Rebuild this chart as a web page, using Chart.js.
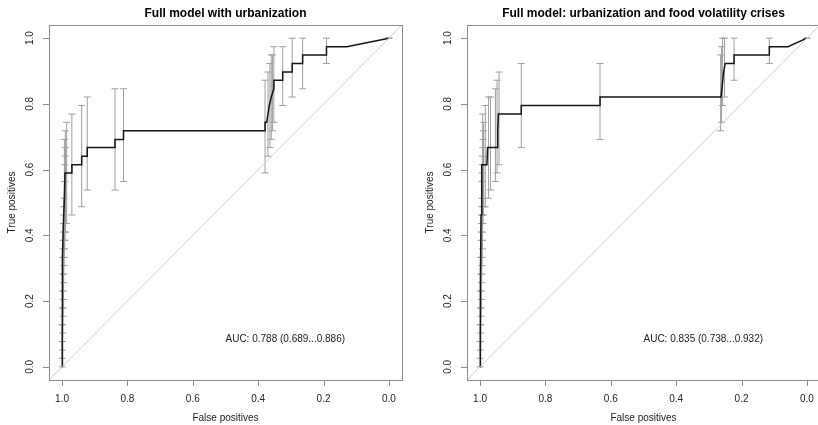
<!DOCTYPE html>
<html>
<head>
<meta charset="utf-8">
<script src="https://cdn.jsdelivr.net/npm/chart.js@4.4.1/dist/chart.umd.min.js"></script>
<style>
  html, body { margin: 0; padding: 0; background: #fff; overflow: hidden; }
  #wrap { position: relative; width: 818px; height: 425px; overflow: hidden; }
  .panel { position: absolute; top: 0; width: 418px; height: 425px; }
</style>
</head>
<body>
<div id="wrap">
  <div class="panel" style="left:0"><canvas id="roc1" width="418" height="425"></canvas></div>
  <div class="panel" style="left:418px"><canvas id="roc2" width="418" height="425"></canvas></div>
</div>
<script>
// ---- data (x = specificity, shown reversed) ----
var TICKS = [0, 0.2, 0.4, 0.6, 0.8, 1.0];
var TICK_LABELS = ["0.0", "0.2", "0.4", "0.6", "0.8", "1.0"];

var LEFT_TITLE = "Full model with urbanization";
var LEFT_AUC = "AUC: 0.788 (0.689...0.886)";
var LEFT_CURVE_SP = [1.000, 1.000, 0.998, 0.996, 0.993, 0.991, 0.970, 0.970, 0.940, 0.940, 0.923, 0.923,
  0.838, 0.838, 0.812, 0.812, 0.379, 0.379, 0.374, 0.366, 0.360, 0.352, 0.352,
  0.325, 0.325, 0.296, 0.296, 0.264, 0.264, 0.191, 0.191, 0.129, 0.000];
var LEFT_CURVE_SE = [0.000, 0.205, 0.333, 0.436, 0.513, 0.590, 0.590, 0.615, 0.615, 0.641, 0.641, 0.667,
  0.667, 0.692, 0.692, 0.718, 0.718, 0.744, 0.744, 0.795, 0.821, 0.846, 0.872,
  0.872, 0.897, 0.897, 0.923, 0.923, 0.949, 0.949, 0.974, 0.974, 1.000];
// sensitivity confidence bars: position, lower, upper
var LEFT_BAR_SP = [1.000, 1.000, 0.999, 0.999, 0.998, 0.998, 0.997, 0.997, 0.996, 0.996, 0.995, 0.995,
  0.994, 0.993, 0.992, 0.991, 0.990, 0.993, 0.990, 0.986,
  0.970, 0.940, 0.923, 0.838, 0.812,
  0.379, 0.370, 0.364, 0.360, 0.356, 0.352,
  0.325, 0.296, 0.264, 0.191, 0.000];
var LEFT_BAR_LO = [0.000, 0.026, 0.051, 0.077, 0.103, 0.128, 0.154, 0.179, 0.205, 0.231, 0.256, 0.282,
  0.308, 0.333, 0.359, 0.385, 0.410, 0.385, 0.410, 0.436,
  0.462, 0.487, 0.538, 0.538, 0.564,
  0.590, 0.641, 0.667, 0.692, 0.718, 0.744,
  0.795, 0.821, 0.846, 0.923, 1.000];
var LEFT_BAR_HI = [0.077, 0.128, 0.179, 0.231, 0.282, 0.333, 0.359, 0.385, 0.410, 0.436, 0.462, 0.487,
  0.513, 0.564, 0.615, 0.641, 0.667, 0.692, 0.718, 0.744,
  0.769, 0.795, 0.821, 0.846, 0.846,
  0.872, 0.897, 0.923, 0.949, 0.949, 0.974,
  0.974, 1.000, 1.000, 1.000, 1.000];

var RIGHT_TITLE = "Full model: urbanization and food volatility crises";
var RIGHT_AUC = "AUC: 0.835 (0.738...0.932)";
var RIGHT_CURVE_SP = [1.000, 0.999, 0.997, 0.995, 0.979, 0.977, 0.948, 0.946, 0.944, 0.874, 0.874,
  0.633, 0.633, 0.263, 0.260, 0.255, 0.250, 0.223, 0.223, 0.115, 0.115, 0.058, 0.000];
var RIGHT_CURVE_SE = [0.000, 0.256, 0.462, 0.615, 0.615, 0.667, 0.667, 0.718, 0.769, 0.769, 0.795,
  0.795, 0.821, 0.821, 0.846, 0.897, 0.923, 0.923, 0.949, 0.949, 0.974, 0.974, 1.000];
var RIGHT_BAR_SP = [1.000, 1.000, 0.999, 0.999, 0.998, 0.998, 0.997, 0.997, 0.996, 0.996, 0.995, 0.995,
  0.994, 0.994, 0.993, 0.993, 0.992, 0.991, 0.990, 0.989, 0.992, 0.984, 0.974, 0.968,
  0.953, 0.948, 0.942, 0.874, 0.633,
  0.264, 0.261, 0.258, 0.252, 0.223, 0.115, 0.000];
var RIGHT_BAR_LO = [0.000, 0.026, 0.051, 0.077, 0.103, 0.128, 0.154, 0.179, 0.205, 0.231, 0.256, 0.282,
  0.308, 0.333, 0.359, 0.385, 0.410, 0.436, 0.462, 0.487, 0.462, 0.487, 0.513, 0.538,
  0.564, 0.590, 0.615, 0.667, 0.692,
  0.718, 0.744, 0.795, 0.821, 0.872, 0.923, 1.000];
var RIGHT_BAR_HI = [0.077, 0.128, 0.179, 0.231, 0.282, 0.333, 0.385, 0.410, 0.436, 0.462, 0.487, 0.513,
  0.564, 0.590, 0.615, 0.641, 0.667, 0.692, 0.718, 0.744, 0.769, 0.795, 0.821, 0.821,
  0.846, 0.872, 0.897, 0.923, 0.923,
  0.949, 0.974, 1.000, 1.000, 1.000, 1.000, 1.000];

var CHANCE_SP = [1.04, -0.04];
var CHANCE_SE = [-0.04, 1.04];

// ---- look ----
var FONT = "'Liberation Sans', Arial, Helvetica, sans-serif";
var FRAME = "#8c8c8c", BAR = "#9e9e9e", INK = "#222", CAP = 3.5;

function points(xs, ys) {
  return xs.map(function (x, i) { return { x: x, y: ys[i] }; });
}

// R-style frame: box, outward ticks, rotated y labels, titles, AUC text, CI bars
function rocFrame(p) {
  return {
    id: "rocFrame",
    beforeDatasetsDraw: function (chart) {
      var ctx = chart.ctx, xs = chart.scales.x, ys = chart.scales.y;
      ctx.save();
      ctx.strokeStyle = BAR;
      ctx.lineWidth = 1;
      ctx.beginPath();
      p.barSp.forEach(function (sp, i) {
        var x = xs.getPixelForValue(sp);
        var y1 = ys.getPixelForValue(p.barLo[i]);
        var y2 = ys.getPixelForValue(p.barHi[i]);
        ctx.moveTo(x, y1); ctx.lineTo(x, y2);
        ctx.moveTo(x - CAP, y1); ctx.lineTo(x + CAP, y1);
        ctx.moveTo(x - CAP, y2); ctx.lineTo(x + CAP, y2);
      });
      ctx.stroke();
      ctx.restore();
    },
    afterDraw: function (chart) {
      var ctx = chart.ctx, a = chart.chartArea;
      var xs = chart.scales.x, ys = chart.scales.y;
      ctx.save();
      ctx.strokeStyle = FRAME;
      ctx.lineWidth = 1;
      ctx.strokeRect(a.left + 0.5, a.top + 0.5, a.right - a.left, a.bottom - a.top);

      ctx.beginPath();
      TICKS.forEach(function (t) {
        var x = Math.round(xs.getPixelForValue(t)) + 0.5;
        ctx.moveTo(x, a.bottom); ctx.lineTo(x, a.bottom + 6);
        var y = Math.round(ys.getPixelForValue(t)) + 0.5;
        ctx.moveTo(a.left, y); ctx.lineTo(a.left - 6, y);
      });
      ctx.stroke();

      ctx.fillStyle = INK;
      ctx.font = "10px " + FONT;
      ctx.textAlign = "center";
      ctx.textBaseline = "middle";
      TICKS.forEach(function (t, i) {
        ctx.fillText(TICK_LABELS[i], xs.getPixelForValue(t), a.bottom + 19);
        ctx.save();
        ctx.translate(a.left - 19, ys.getPixelForValue(t));
        ctx.rotate(-Math.PI / 2);
        ctx.fillText(TICK_LABELS[i], 0, 0);
        ctx.restore();
      });

      ctx.fillText("False positives", (a.left + a.right) / 2, a.bottom + 38);
      ctx.save();
      ctx.translate(a.left - 37, (a.top + a.bottom) / 2);
      ctx.rotate(-Math.PI / 2);
      ctx.fillText("True positives", 0, 0);
      ctx.restore();

      ctx.textAlign = "left";
      ctx.fillText(p.auc, xs.getPixelForValue(0.5), ys.getPixelForValue(0.085));

      ctx.fillStyle = "#000";
      ctx.textAlign = "center";
      ctx.font = "bold 12px " + FONT;
      ctx.fillText(p.title, (a.left + a.right) / 2, a.top - 11);
      ctx.restore();
    }
  };
}

function drawRoc(id, p) {
  return new Chart(document.getElementById(id), {
    type: "scatter",
    data: {
      datasets: [
        { data: points(CHANCE_SP, CHANCE_SE), showLine: true, borderColor: "#cfcfcf",
          borderWidth: 1, pointRadius: 0 },
        { data: points(p.sp, p.se), showLine: true, borderColor: "#151515",
          borderWidth: 1.5, pointRadius: 0, tension: 0 }
      ]
    },
    options: {
      responsive: false,
      animation: false,
      events: [],
      layout: { padding: { left: 49, right: 16, top: 25, bottom: 45 } },
      scales: {
        x: { type: "linear", reverse: true, min: -0.04, max: 1.04, display: false },
        y: { type: "linear", min: -0.04, max: 1.04, display: false }
      },
      plugins: { legend: { display: false }, tooltip: { enabled: false } }
    },
    plugins: [rocFrame(p)]
  });
}

drawRoc("roc1", { title: LEFT_TITLE, auc: LEFT_AUC, sp: LEFT_CURVE_SP, se: LEFT_CURVE_SE,
  barSp: LEFT_BAR_SP, barLo: LEFT_BAR_LO, barHi: LEFT_BAR_HI });
drawRoc("roc2", { title: RIGHT_TITLE, auc: RIGHT_AUC, sp: RIGHT_CURVE_SP, se: RIGHT_CURVE_SE,
  barSp: RIGHT_BAR_SP, barLo: RIGHT_BAR_LO, barHi: RIGHT_BAR_HI });
</script>
</body>
</html>
